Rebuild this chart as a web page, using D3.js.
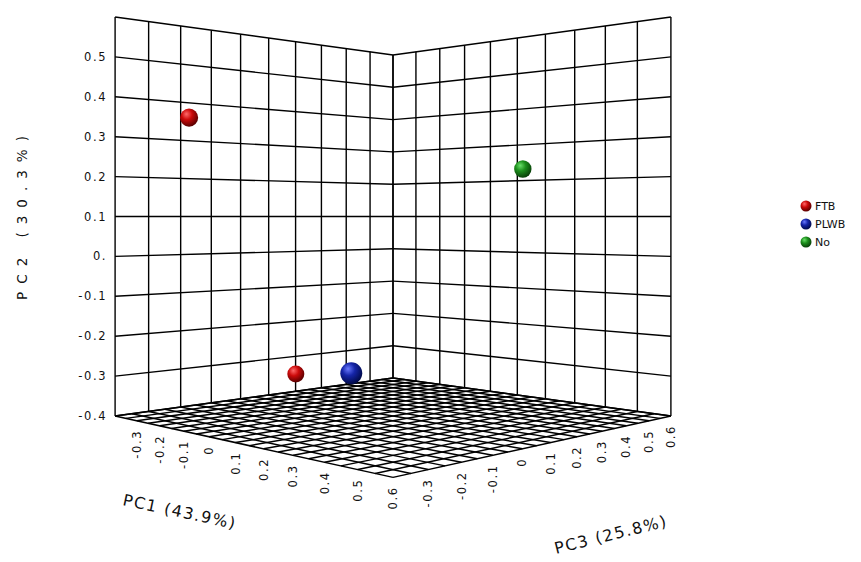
<!DOCTYPE html>
<html><head><meta charset="utf-8">
<script src="https://cdn.jsdelivr.net/npm/d3@7"></script>
<style>body{margin:0;background:#fff} svg{display:block}</style>
</head><body><svg id="chart" width="861" height="562"></svg>
<script>
// ---------- data ----------
const groups = ["FTB", "PLWB", "No"];
const pointGroup = ["FTB", "FTB", "PLWB", "No"];
const pc1Values = [-0.39, -0.34, 0.32, 0.16];
const pc2Values = [0.36, -0.34, -0.24, 0.23];
const pc3Values = [-0.18, 0.15, -0.25, 0.55];

const pc1TickValues = [-0.3, -0.2, -0.1, 0, 0.1, 0.2, 0.3, 0.4, 0.5, 0.6];
const pc1TickLabels = ["-0.3", "-0.2", "-0.1", "0", "0.1", "0.2", "0.3", "0.4", "0.5", "0.6"];
const pc3TickValues = [-0.3, -0.2, -0.1, 0, 0.1, 0.2, 0.3, 0.4, 0.5, 0.6];
const pc3TickLabels = ["-0.3", "-0.2", "-0.1", "0", "0.1", "0.2", "0.3", "0.4", "0.5", "0.6"];
const pc2TickValues = [0.5, 0.4, 0.3, 0.2, 0.1, 0, -0.1, -0.2, -0.3, -0.4];
const pc2TickLabels = ["0.5", "0.4", "0.3", "0.2", "0.1", "0.", "-0.1", "-0.2", "-0.3", "-0.4"];
const axisDomain = [-0.4, 0.6];
const axisTitles = {pc1: "PC1 (43.9%)", pc2: "PC2 (30.3%)", pc3: "PC3 (25.8%)"};

// ---------- styles ----------
const colorStops = {
  FTB:  ["#ff6a6a", "#cc0a0a", "#5a0000"],
  PLWB: ["#6a7aff", "#1525a8", "#000a4a"],
  No:   ["#6adf6a", "#1c8f1c", "#074007"]
};

// ---------- 3D projection ----------
const sx = d3.scaleLinear().domain(axisDomain).range([0, 1]); // PC1
const sy = d3.scaleLinear().domain(axisDomain).range([0, 1]); // PC2
const sz = d3.scaleLinear().domain(axisDomain).range([0, 1]); // PC3
const CAM = {D: 3.005, fx: 1181, fy: 1199, cx: 393, cy: 216.5, h: 0.5};
const R2 = Math.SQRT2;
function project(p1, p2, p3) {
  const rx = sx(p1) - 0.5, rz = sz(p3) - 0.5, Y = sy(p2);
  const depth = CAM.D + (-rx + rz) / R2;
  const lateral = (rx + rz) / R2;
  return {x: CAM.cx + CAM.fx * lateral / depth, y: CAM.cy - CAM.fy * (Y - CAM.h) / depth, depth};
}

const svg = d3.select("#chart");
const defs = svg.append("defs");
groups.forEach(g => {
  const grad = defs.append("radialGradient").attr("id", "grad-" + g)
    .attr("cx", "40%").attr("cy", "35%").attr("r", "65%").attr("fx", "35%").attr("fy", "30%");
  grad.append("stop").attr("offset", "0%").attr("stop-color", colorStops[g][0]);
  grad.append("stop").attr("offset", "45%").attr("stop-color", colorStops[g][1]);
  grad.append("stop").attr("offset", "100%").attr("stop-color", colorStops[g][2]);
});

const line = d3.line().x(d => d.x).y(d => d.y);
const grid = svg.append("g").attr("fill", "none").attr("stroke", "#000").attr("stroke-width", 1.4);
const wallTicks = sx.ticks(10);
const floorTicks = sx.ticks(20);
const [lo, hi] = axisDomain;

// left wall (PC1 = lo), PC3 varies
wallTicks.forEach(t => {
  grid.append("path").attr("d", line([project(lo, lo, t), project(lo, hi, t)]));
  grid.append("path").attr("d", line([project(lo, t, lo), project(lo, t, hi)]));
});
// right wall (PC3 = hi), PC1 varies
wallTicks.forEach(t => {
  grid.append("path").attr("d", line([project(t, lo, hi), project(t, hi, hi)]));
  grid.append("path").attr("d", line([project(lo, t, hi), project(hi, t, hi)]));
});
// floor (PC2 = lo)
floorTicks.forEach(t => {
  grid.append("path").attr("d", line([project(t, lo, lo), project(t, lo, hi)])).attr("stroke-width", 1.5);
  grid.append("path").attr("d", line([project(lo, lo, t), project(hi, lo, t)])).attr("stroke-width", 1.5);
});

// tick labels
const tickFont = "DejaVu Sans, Verdana, sans-serif";
const tl = svg.append("g").attr("font-family", tickFont).attr("font-size", 11.5)
  .attr("fill", "#111").attr("letter-spacing", 1.6);
pc2TickValues.forEach((t, i) => {
  const p = project(lo, t, lo);
  tl.append("text").attr("x", p.x - 8).attr("y", p.y).attr("dy", "0.35em")
    .attr("text-anchor", "end").text(pc2TickLabels[i]);
});
pc1TickValues.forEach((t, i) => {
  const p = project(t, lo, lo);
  tl.append("text").attr("transform", `translate(${p.x},${p.y + 9}) rotate(-90)`)
    .attr("text-anchor", "end").attr("dy", "0.35em").text(pc1TickLabels[i]);
});
pc3TickValues.forEach((t, i) => {
  const p = project(hi, lo, t);
  tl.append("text").attr("transform", `translate(${p.x},${p.y + 9}) rotate(-90)`)
    .attr("text-anchor", "end").attr("dy", "0.35em").text(pc3TickLabels[i]);
});

// axis titles
const at = svg.append("g").attr("font-family", tickFont).attr("fill", "#111");
at.append("text").attr("transform", "translate(22,214) rotate(-90)")
  .attr("text-anchor", "middle").attr("dy", "0.35em")
  .attr("font-size", 13.5).attr("letter-spacing", 8).text(axisTitles.pc2);
at.append("text").attr("transform", "translate(122,505) rotate(12)")
  .attr("font-size", 16).attr("letter-spacing", 1.5).text(axisTitles.pc1);
at.append("text").attr("transform", "translate(556,554) rotate(-14)")
  .attr("font-size", 16).attr("letter-spacing", 1.5).text(axisTitles.pc3);

// points
const R0 = 9.5;
const pts = pc1Values.map((v, i) => {
  const p = project(v, pc2Values[i], pc3Values[i]);
  return {x: p.x, y: p.y, depth: p.depth, g: pointGroup[i], r: R0 * CAM.D / p.depth};
}).sort((a, b) => b.depth - a.depth);
svg.append("g").selectAll("circle").data(pts).join("circle")
  .attr("cx", d => d.x).attr("cy", d => d.y).attr("r", d => d.r)
  .attr("fill", d => `url(#grad-${d.g})`);

// legend
const lg = svg.append("g").attr("font-family", tickFont).attr("font-size", 11).attr("fill", "#111");
groups.forEach((g, i) => {
  const y = 206 + i * 18;
  lg.append("circle").attr("cx", 806).attr("cy", y).attr("r", 5.5).attr("fill", `url(#grad-${g})`);
  lg.append("text").attr("x", 815).attr("y", y).attr("dy", "0.35em").text(g);
});
</script></body></html>
